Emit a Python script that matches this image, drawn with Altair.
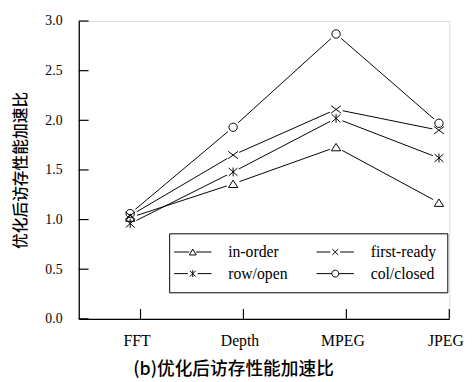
import altair as alt
import pandas as pd

categories = ["FFT", "Depth", "MPEG", "JPEG"]
series = ["in-order", "first-ready", "row/open", "col/closed"]
in_order = [1.02, 1.36, 1.73, 1.17]
first_ready = [1.04, 1.65, 2.11, 1.90]
row_open = [0.96, 1.48, 2.02, 1.62]
col_closed = [1.06, 1.93, 2.87, 1.97]
y_ticks = [0.0, 0.5, 1.0, 1.5, 2.0, 2.5, 3.0]

rows = []
for name, vals in zip(series, [in_order, first_ready, row_open, col_closed]):
    for i, (c, v) in enumerate(zip(categories, vals)):
        rows.append({"series": name, "cat": c, "idx": i, "value": v})
df = pd.DataFrame(rows)

TICK_SHIFT = 0.1
x_tick_vals = [i + TICK_SHIFT for i in range(len(categories))]
xtick_df = pd.DataFrame({"idx": x_tick_vals})
ytick_df = pd.DataFrame({"value": y_ticks})

W, H = 377, 303
SERIF = "Liberation Serif"
CJK = "Noto Sans CJK SC"

# marker shapes (unit box)
tri = "M0,-0.75L0.95,0.75L-0.95,0.75Z"
xmark = "M-1,-0.75L1,0.75M-1,0.75L1,-0.75"
ast = "M-0.9,-0.8L0.9,0.8M-0.9,0.8L0.9,-0.8M0,-0.9L0,0.9"
circ = "M0.85,0A0.85,0.85,0,1,1,-0.85,0A0.85,0.85,0,1,1,0.85,0Z"
marker_paths = [tri, xmark, ast, circ]

# legend shapes: line + small marker
seg = "M-3.8,0L-0.7,0M0.7,0L3.8,0"
l_tri = seg + "M0,-0.6L0.7,0.6L-0.7,0.6Z"
l_x = "M-3.8,0L-1,0M1,0L3.8,0M-0.6,-0.6L0.6,0.6M-0.6,0.6L0.6,-0.6"
l_ast = "M-3.8,0L-1,0M1,0L3.8,0M-0.6,-0.6L0.6,0.6M-0.6,0.6L0.6,-0.6M0,-0.7L0,0.7"
l_circ = seg + "M0.7,0A0.7,0.7,0,1,1,-0.7,0A0.7,0.7,0,1,1,0.7,0Z"
legend_paths = [l_tri, l_x, l_ast, l_circ]

label_expr = "[" + ",".join("'%s'" % c for c in categories) + "][round(datum.value - %s)]" % TICK_SHIFT

x_enc = alt.X(
    "idx:Q",
    scale=alt.Scale(domain=[-0.5, 3.1], nice=False, zero=False),
    axis=alt.Axis(
        values=x_tick_vals,
        labelExpr=label_expr,
        tickSize=0,
        grid=False,
        labelPadding=14,
        labelOffset=-4,
        labelFont=SERIF,
        labelFontSize=16,
        labelColor="black",
        labelFlush=False,
        domainColor="black",
        domainWidth=1.3,
        title="(b)优化后访存性能加速比",
        titleFont=CJK,
        titleFontSize=18,
        titleFontWeight=500,
        titleColor="black",
        titleX=157,
        titleY=52,
        titleAlign="center",
        titleBaseline="middle",
    ),
)
y_enc = alt.Y(
    "value:Q",
    scale=alt.Scale(domain=[0, 3], nice=False),
    axis=alt.Axis(
        values=y_ticks,
        format=".1f",
        tickSize=0,
        grid=False,
        labelPadding=17,
        labelFont=SERIF,
        labelFontSize=14,
        labelColor="black",
        labelFlush=False,
        domainColor="black",
        domainWidth=1.3,
        title="优化后访存性能加速比",
        titleFont=CJK,
        titleFontSize=16,
        titleFontWeight=500,
        titleColor="black",
        titlePadding=17,
    ),
)

base = alt.Chart(df)

lines = base.mark_line(color="black", strokeWidth=1).encode(
    x=x_enc, y=y_enc, detail="series:N"
)

gaps = base.mark_point(filled=True, color="white", opacity=1, size=190, shape="circle").encode(
    x="idx:Q", y="value:Q"
)

markers = base.mark_point(filled=False, color="black", strokeWidth=1, size=100, opacity=1).encode(
    x="idx:Q",
    y="value:Q",
    shape=alt.Shape("series:N", scale=alt.Scale(domain=series, range=marker_paths), legend=None),
)

legend_layer = base.transform_filter("false").mark_point(
    filled=False, color="black", strokeWidth=1, size=100, opacity=1
).encode(
    x="idx:Q",
    y="value:Q",
    shape=alt.Shape(
        "series:N",
        scale=alt.Scale(domain=series, range=legend_paths),
        legend=alt.Legend(
            title=None,
            orient="none",
            legendX=92,
            legendY=216,
            columns=2,
            direction="horizontal",
            strokeColor="black",
            padding=11,
            rowPadding=6,
            columnPadding=27,
            labelFont=SERIF,
            labelFontSize=16,
            labelColor="black",
            labelOffset=28,
            symbolOffset=5,
            symbolSize=100,
            symbolStrokeColor="black",
            symbolStrokeWidth=1,
            symbolFillColor="transparent",
        ),
    ),
)

xticks = alt.Chart(xtick_df).mark_rule(color="black", strokeWidth=1.2).encode(
    x="idx:Q", y=alt.value(H - 10), y2=alt.value(H)
)
yticks = alt.Chart(ytick_df).mark_rule(color="black", strokeWidth=1.2).encode(
    y="value:Q", x=alt.value(0), x2=alt.value(10)
)

chart = (
    alt.layer(lines, gaps, markers, legend_layer, xticks, yticks)
    .resolve_scale(shape="independent")
    .properties(
        width=W,
        height=H,
        autosize=alt.AutoSizeParams(type="none"),
        padding={"left": 72, "top": 10, "right": 16, "bottom": 61},
    )
    .configure_view(stroke=None)
    .configure(background="white")
)

chart.save("out.html", embed_options={"renderer": "svg", "actions": False})
